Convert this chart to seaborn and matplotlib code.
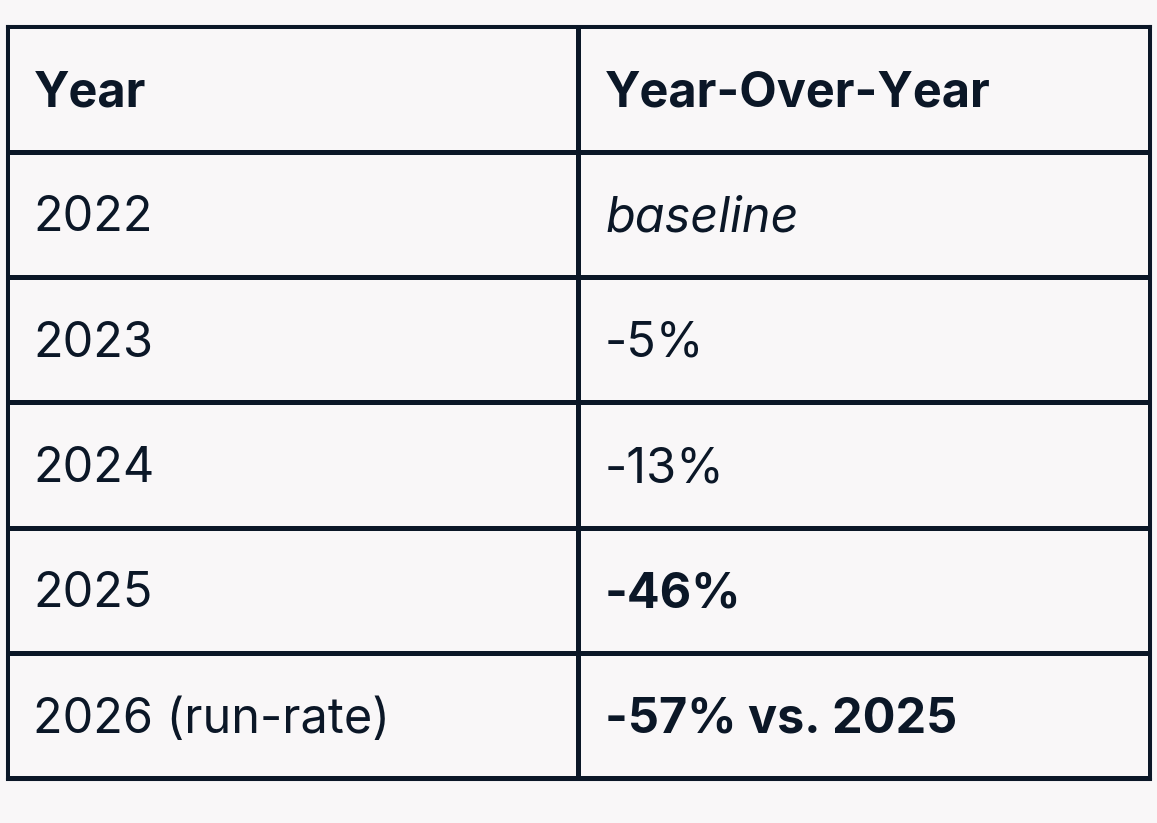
import numpy as np
import pandas as pd
import matplotlib
matplotlib.use("Agg")
import matplotlib.pyplot as plt
import seaborn as sns
from matplotlib import font_manager

# Table contents
header = ["Year", "Year-Over-Year"]
years = ["2022", "2023", "2024", "2025", "2026 (run-rate)"]
changes = ["baseline", "-5%", "-13%", "-46%", "-57% vs. 2025"]
change_style = ["italic", "normal", "normal", "bold", "bold"]

bg = "#f9f7f8"
ink = "#0b1727"

sns.set_theme(style="white")
plt.rcParams["font.family"] = ["Inter", "DejaVu Sans"]

# is there a real Inter italic? otherwise fall back to Lato italic
has_inter_italic = any(f.name == "Inter" and f.style == "italic"
                       for f in font_manager.fontManager.ttflist)
italic_family = ["Inter", "DejaVu Sans"] if has_inter_italic else ["Lato", "DejaVu Sans"]

n_rows = len(years) + 1
grid = pd.DataFrame(np.zeros((n_rows, 2)))

fig = plt.figure(figsize=(11.57, 8.23), dpi=100, facecolor=bg)
ax = fig.add_axes([6.5 / 1157, (823 - 778.5) / 823,
                   (1150 - 6.5) / 1157, (778.5 - 26.5) / 823])

sns.heatmap(grid, ax=ax, cmap=[bg], cbar=False,
            linewidths=2.2, linecolor=ink,
            xticklabels=False, yticklabels=False)
for side in ax.spines.values():
    side.set_visible(True)
    side.set_color(ink)
    side.set_linewidth(2.2)

fs = 35
pad = 0.047
base = 0.635

ax.text(pad, base, header[0], fontsize=fs, fontweight="bold", color=ink, va="baseline")
ax.text(1 + pad, base, header[1], fontsize=fs, fontweight="bold", color=ink, va="baseline")

for i, (yr, ch, st) in enumerate(zip(years, changes, change_style)):
    y = i + 1 + base
    ax.text(pad, y, yr, fontsize=fs, color=ink, va="baseline")
    if st == "italic":
        ax.text(1 + pad, y, ch, fontsize=fs, color=ink, va="baseline",
                family=italic_family, fontstyle="italic")
    else:
        ax.text(1 + pad, y, ch, fontsize=fs, color=ink, va="baseline",
                fontweight="bold" if st == "bold" else "normal")

fig.savefig("out.png", dpi=100, facecolor=bg)
